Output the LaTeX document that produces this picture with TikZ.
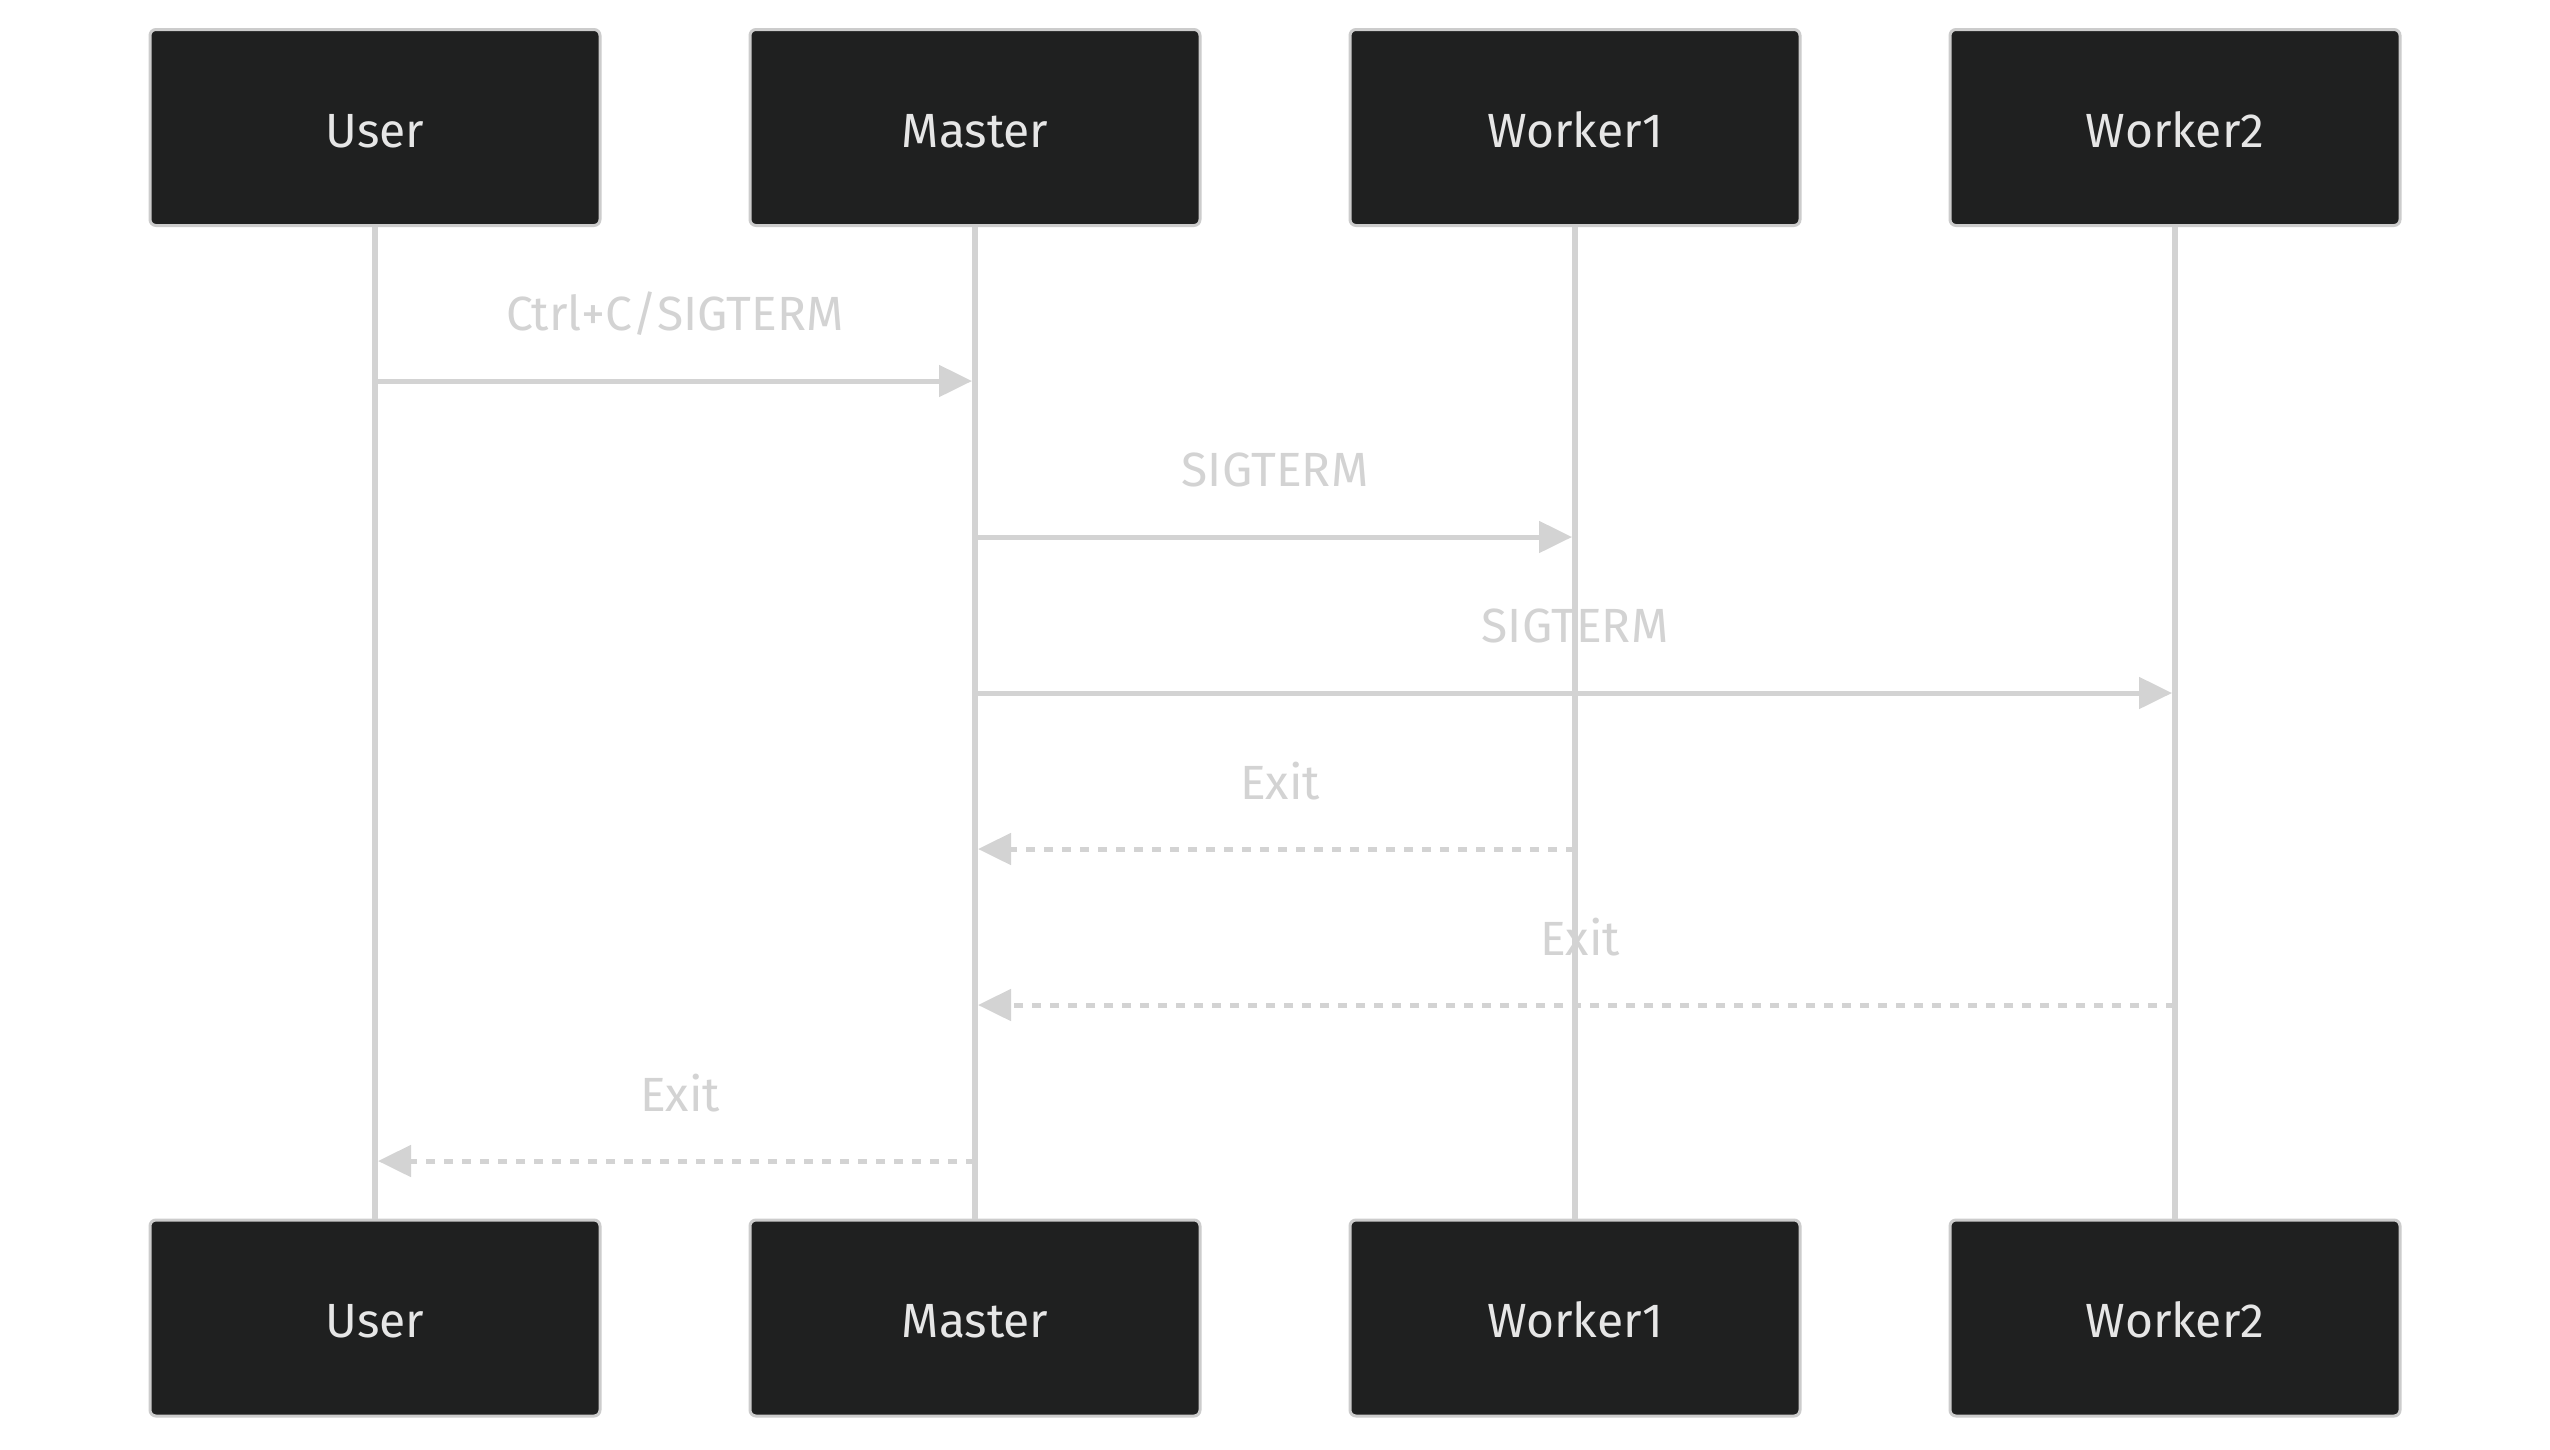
\documentclass[tikz,border=0pt]{standalone}
\usepackage{fontspec}
\setmainfont{Fira Sans}
\usetikzlibrary{arrows.meta}
\definecolor{boxfill}{HTML}{1F2020}
\definecolor{boxline}{HTML}{CCCCCC}
\definecolor{actortext}{HTML}{E6E6E6}
\definecolor{msgline}{HTML}{D3D3D3}
\definecolor{msgtext}{HTML}{D3D3D3}
\tikzset{
  actor/.style={draw=boxline, fill=boxfill, line width=3pt, rounded corners=6pt,
    minimum width=450pt, minimum height=196pt, inner sep=0pt,
    text height=39pt, text depth=0pt,
    text=actortext, font=\fontsize{48}{58}\selectfont},
  lifeline/.style={draw=msgline, line width=5.5pt},
  msg/.style={draw=msgline, line width=5pt, -{Triangle[length=33pt,width=31pt]}},
  reply/.style={msg, dash pattern=on 9pt off 9pt},
  msglabel/.style={text=msgtext, font=\fontsize{48}{58}\selectfont, inner sep=0pt, anchor=center},
}
\begin{document}
\begin{tikzpicture}[x=1pt,y=-1pt]
\useasboundingbox (0,0) rectangle (2550,1449);
\fill[white] (0,0) rectangle (2550,1449);
% actors top
\node[actor] (userT) at (375,127.5) {User};
\node[actor] (masterT) at (975,127.5) {Master};
\node[actor] (w1T) at (1575,127.5) {Worker1};
\node[actor] (w2T) at (2175,127.5) {Worker2};
% actors bottom
\node[actor] (userB) at (375,1318) {User};
\node[actor] (masterB) at (975,1318) {Master};
\node[actor] (w1B) at (1575,1318) {Worker1};
\node[actor] (w2B) at (2175,1318) {Worker2};
% lifelines
\draw[lifeline] (userT.south) -- (userB.north);
\draw[lifeline] (masterT.south) -- (masterB.north);
\draw[lifeline] (w1T.south) -- (w1B.north);
\draw[lifeline] (w2T.south) -- (w2B.north);
% message anchor points
\coordinate (m1s) at (378,381);  \coordinate (m1e) at (972,381);
\coordinate (m2s) at (978,537);  \coordinate (m2e) at (1572,537);
\coordinate (m3s) at (978,693);  \coordinate (m3e) at (2172,693);
\coordinate (m4s) at (1575,849); \coordinate (m4e) at (978,849);
\coordinate (m5s) at (2175,1005);\coordinate (m5e) at (978,1005);
\coordinate (m6s) at (975,1161); \coordinate (m6e) at (378,1161);
% messages
\draw[msg] (m1s) -- (m1e);
\draw[msg] (m2s) -- (m2e);
\draw[msg] (m3s) -- (m3e);
\draw[reply] (m4s) -- (m4e);
\draw[reply] (m5s) -- (m5e);
\draw[reply] (m6s) -- (m6e);
% labels
\node[msglabel] (l1) at (675,314) {Ctrl+C/SIGTERM};
\node[msglabel] (l2) at (1275,470) {SIGTERM};
\node[msglabel] (l3) at (1575,626) {SIGTERM};
\node[msglabel] (l4) at (1280,781) {Exit};
\node[msglabel] (l5) at (1580,937) {Exit};
\node[msglabel] (l6) at (680,1093) {Exit};
\end{tikzpicture}
\end{document}
